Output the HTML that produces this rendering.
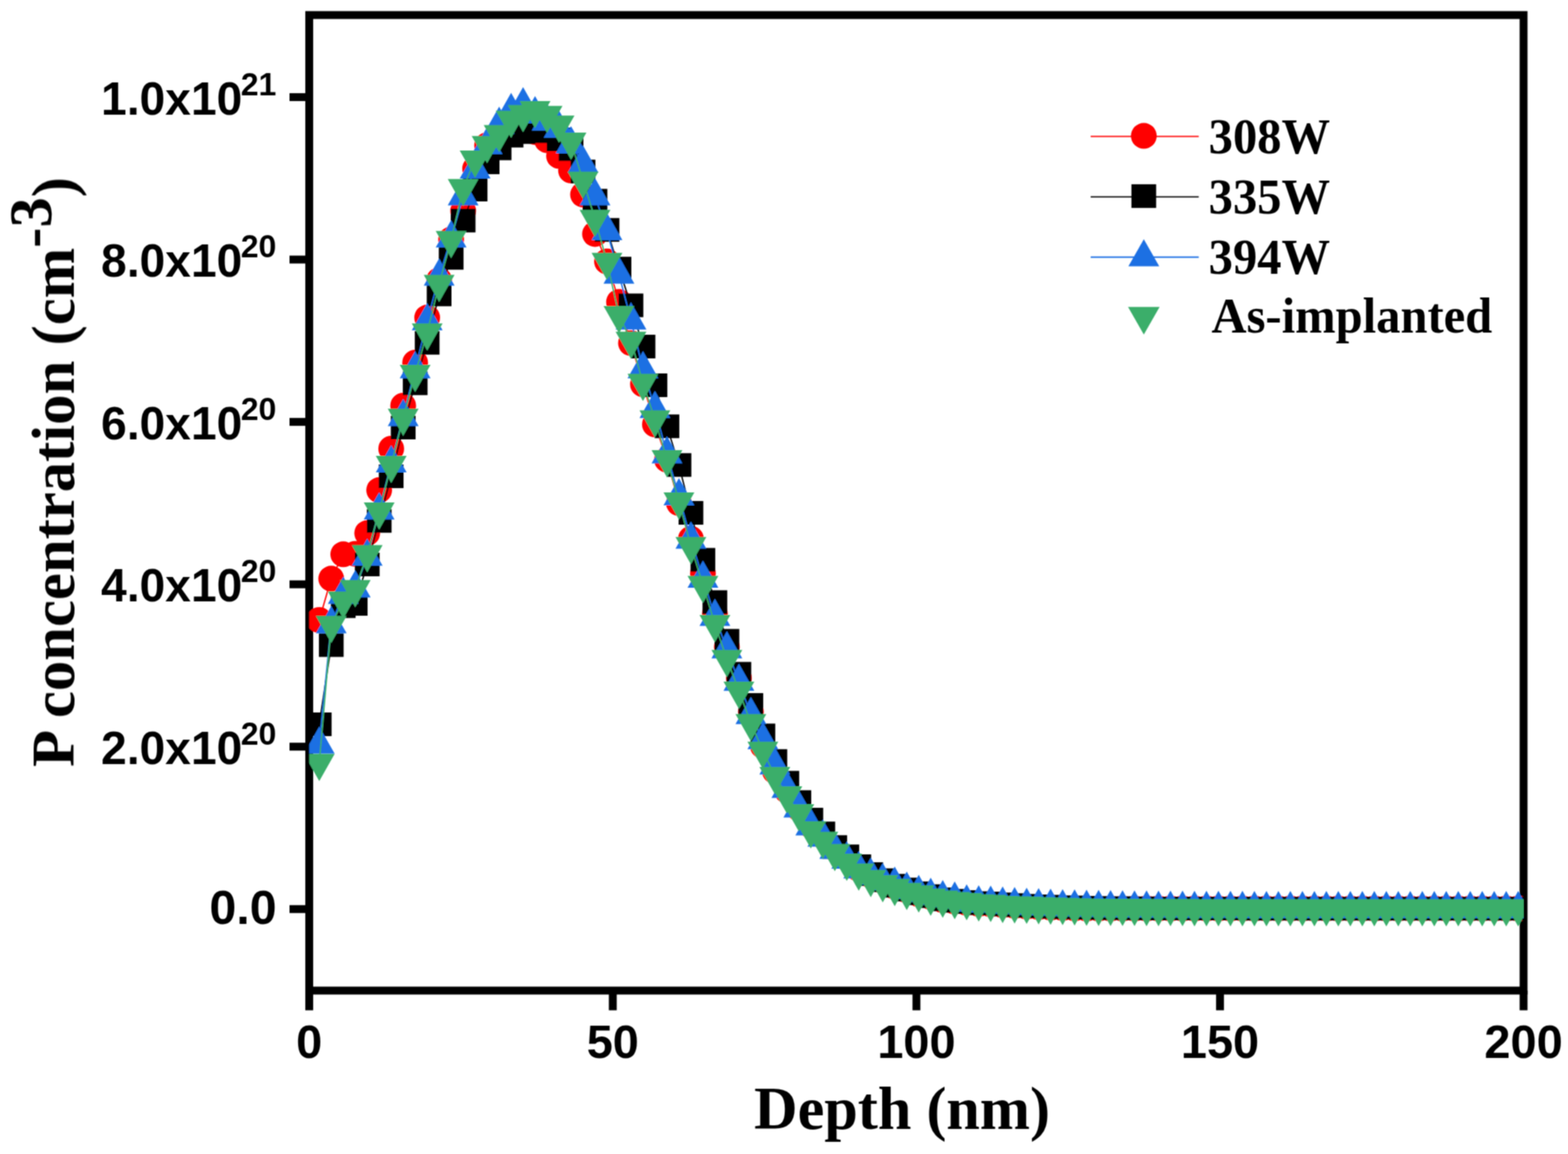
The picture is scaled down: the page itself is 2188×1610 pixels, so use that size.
<!DOCTYPE html>
<html><head><meta charset="utf-8"><title>P concentration vs depth</title>
<style>html,body{margin:0;padding:0;background:#fff;}svg{display:block;}</style>
</head><body>
<svg width="2188" height="1610" viewBox="0 0 2188 1610">
<rect width="2188" height="1610" fill="#fff"/>
<g filter="url(#bl)">
<defs><filter id="bl" x="0" y="0" width="100%" height="100%" filterUnits="userSpaceOnUse"><feConvolveMatrix order="3" kernelMatrix="1 2 1 2 4 2 1 2 1" divisor="16" edgeMode="duplicate" preserveAlpha="false"/></filter><clipPath id="pc"><rect x="431.5" y="21" width="1694.5" height="1361"/></clipPath></defs>
<g stroke="#000" stroke-width="11" fill="none" stroke-linecap="square">
<rect x="431.5" y="21" width="1694.5" height="1361"/>
</g>
<g stroke="#000" stroke-width="11" fill="none">
<line x1="431.5" y1="1382" x2="431.5" y2="1409.5"/>
<line x1="855.1" y1="1382" x2="855.1" y2="1409.5"/>
<line x1="1278.8" y1="1382" x2="1278.8" y2="1409.5"/>
<line x1="1702.4" y1="1382" x2="1702.4" y2="1409.5"/>
<line x1="2126" y1="1382" x2="2126" y2="1409.5"/>
<line x1="404" y1="1268.3" x2="431.5" y2="1268.3"/>
<line x1="404" y1="1041.7" x2="431.5" y2="1041.7"/>
<line x1="404" y1="815.2" x2="431.5" y2="815.2"/>
<line x1="404" y1="588.6" x2="431.5" y2="588.6"/>
<line x1="404" y1="362.1" x2="431.5" y2="362.1"/>
<line x1="404" y1="135.5" x2="431.5" y2="135.5"/>
</g>
<g clip-path="url(#pc)">
<polyline points="445.5,865 462.2,807.3 479,773.3 495.7,772.7 512.4,743.8 529.1,683.8 545.9,626 562.6,566 579.3,505.9 596.1,443.1 612.8,390.8 629.5,334.1 646.3,294.1 663,235.2 679.7,202.7 696.5,186.5 713.2,178.5 729.9,178.5 746.6,184.2 763.4,195.5 780.1,217.6 796.8,237.8 813.6,271.4 830.3,326.4 847,364.8 863.8,421.3 880.5,478.7 897.2,536.1 913.9,592 930.7,641.3 947.4,701.9 964.1,751.7 980.9,800 997.6,856.5 1014.3,902.6 1031.1,946 1047.8,993 1064.5,1040.6 1081.2,1075.7 1098,1102.9 1114.7,1127.8 1131.4,1151.6 1148.2,1166.3 1164.9,1183.3 1181.6,1196.9 1198.3,1212.2 1215.1,1221.3 1231.8,1229.1 1248.5,1236.9 1265.3,1242.1 1282,1247.5 1298.7,1251.3 1315.5,1255.8 1332.2,1257.9 1348.9,1259.7 1365.7,1261.2 1382.4,1261.7 1399.1,1262.9 1415.8,1263.9 1432.6,1264.8 1449.3,1265.6 1466,1266.3 1482.8,1266.8 1499.5,1267.3 1516.2,1267.6 1533,1267.6 1549.7,1267.6 1566.4,1267.6 1583.1,1267.6 1599.9,1267.5 1616.6,1267.5 1633.3,1267.5 1650.1,1267.5 1666.8,1267.5 1683.5,1267.5 1700.2,1267.5 1717,1267.5 1733.7,1267.5 1750.4,1267.5 1767.2,1267.5 1783.9,1267.5 1800.6,1267.5 1817.4,1267.5 1834.1,1267.5 1850.8,1267.5 1867.5,1267.5 1884.3,1267.5 1901,1267.5 1917.7,1267.5 1934.5,1267.5 1951.2,1267.5 1967.9,1267.5 1984.7,1267.5 2001.4,1267.5 2018.1,1267.5 2034.9,1267.5 2051.6,1267.5 2068.3,1267.5 2085,1267.5 2101.8,1267.5 2118.5,1267.5" fill="none" stroke="#ff0000" stroke-width="1.9" stroke-linejoin="round"/>
<path d="M427.5 865a18 18 0 1 0 36 0a18 18 0 1 0 -36 0zM444.2 807.3a18 18 0 1 0 36 0a18 18 0 1 0 -36 0zM461 773.3a18 18 0 1 0 36 0a18 18 0 1 0 -36 0zM477.7 772.7a18 18 0 1 0 36 0a18 18 0 1 0 -36 0zM494.4 743.8a18 18 0 1 0 36 0a18 18 0 1 0 -36 0zM511.1 683.8a18 18 0 1 0 36 0a18 18 0 1 0 -36 0zM527.9 626a18 18 0 1 0 36 0a18 18 0 1 0 -36 0zM544.6 566a18 18 0 1 0 36 0a18 18 0 1 0 -36 0zM561.3 505.9a18 18 0 1 0 36 0a18 18 0 1 0 -36 0zM578.1 443.1a18 18 0 1 0 36 0a18 18 0 1 0 -36 0zM594.8 390.8a18 18 0 1 0 36 0a18 18 0 1 0 -36 0zM611.5 334.1a18 18 0 1 0 36 0a18 18 0 1 0 -36 0zM628.3 294.1a18 18 0 1 0 36 0a18 18 0 1 0 -36 0zM645 235.2a18 18 0 1 0 36 0a18 18 0 1 0 -36 0zM661.7 202.7a18 18 0 1 0 36 0a18 18 0 1 0 -36 0zM678.5 186.5a18 18 0 1 0 36 0a18 18 0 1 0 -36 0zM695.2 178.5a18 18 0 1 0 36 0a18 18 0 1 0 -36 0zM711.9 178.5a18 18 0 1 0 36 0a18 18 0 1 0 -36 0zM728.6 184.2a18 18 0 1 0 36 0a18 18 0 1 0 -36 0zM745.4 195.5a18 18 0 1 0 36 0a18 18 0 1 0 -36 0zM762.1 217.6a18 18 0 1 0 36 0a18 18 0 1 0 -36 0zM778.8 237.8a18 18 0 1 0 36 0a18 18 0 1 0 -36 0zM795.6 271.4a18 18 0 1 0 36 0a18 18 0 1 0 -36 0zM812.3 326.4a18 18 0 1 0 36 0a18 18 0 1 0 -36 0zM829 364.8a18 18 0 1 0 36 0a18 18 0 1 0 -36 0zM845.8 421.3a18 18 0 1 0 36 0a18 18 0 1 0 -36 0zM862.5 478.7a18 18 0 1 0 36 0a18 18 0 1 0 -36 0zM879.2 536.1a18 18 0 1 0 36 0a18 18 0 1 0 -36 0zM895.9 592a18 18 0 1 0 36 0a18 18 0 1 0 -36 0zM912.7 641.3a18 18 0 1 0 36 0a18 18 0 1 0 -36 0zM929.4 701.9a18 18 0 1 0 36 0a18 18 0 1 0 -36 0zM946.1 751.7a18 18 0 1 0 36 0a18 18 0 1 0 -36 0zM962.9 800a18 18 0 1 0 36 0a18 18 0 1 0 -36 0zM979.6 856.5a18 18 0 1 0 36 0a18 18 0 1 0 -36 0zM996.3 902.6a18 18 0 1 0 36 0a18 18 0 1 0 -36 0zM1013.1 946a18 18 0 1 0 36 0a18 18 0 1 0 -36 0zM1029.8 993a18 18 0 1 0 36 0a18 18 0 1 0 -36 0zM1046.5 1040.6a18 18 0 1 0 36 0a18 18 0 1 0 -36 0zM1063.2 1075.7a18 18 0 1 0 36 0a18 18 0 1 0 -36 0zM1080 1102.9a18 18 0 1 0 36 0a18 18 0 1 0 -36 0zM1096.7 1127.8a18 18 0 1 0 36 0a18 18 0 1 0 -36 0zM1113.4 1151.6a18 18 0 1 0 36 0a18 18 0 1 0 -36 0zM1130.2 1166.3a18 18 0 1 0 36 0a18 18 0 1 0 -36 0zM1146.9 1183.3a18 18 0 1 0 36 0a18 18 0 1 0 -36 0zM1163.6 1196.9a18 18 0 1 0 36 0a18 18 0 1 0 -36 0zM1180.3 1212.2a18 18 0 1 0 36 0a18 18 0 1 0 -36 0zM1197.1 1221.3a18 18 0 1 0 36 0a18 18 0 1 0 -36 0zM1213.8 1229.1a18 18 0 1 0 36 0a18 18 0 1 0 -36 0zM1230.5 1236.9a18 18 0 1 0 36 0a18 18 0 1 0 -36 0zM1247.3 1242.1a18 18 0 1 0 36 0a18 18 0 1 0 -36 0zM1264 1247.5a18 18 0 1 0 36 0a18 18 0 1 0 -36 0zM1280.7 1251.3a18 18 0 1 0 36 0a18 18 0 1 0 -36 0zM1297.5 1255.8a18 18 0 1 0 36 0a18 18 0 1 0 -36 0zM1314.2 1257.9a18 18 0 1 0 36 0a18 18 0 1 0 -36 0zM1330.9 1259.7a18 18 0 1 0 36 0a18 18 0 1 0 -36 0zM1347.7 1261.2a18 18 0 1 0 36 0a18 18 0 1 0 -36 0zM1364.4 1261.7a18 18 0 1 0 36 0a18 18 0 1 0 -36 0zM1381.1 1262.9a18 18 0 1 0 36 0a18 18 0 1 0 -36 0zM1397.8 1263.9a18 18 0 1 0 36 0a18 18 0 1 0 -36 0zM1414.6 1264.8a18 18 0 1 0 36 0a18 18 0 1 0 -36 0zM1431.3 1265.6a18 18 0 1 0 36 0a18 18 0 1 0 -36 0zM1448 1266.3a18 18 0 1 0 36 0a18 18 0 1 0 -36 0zM1464.8 1266.8a18 18 0 1 0 36 0a18 18 0 1 0 -36 0zM1481.5 1267.3a18 18 0 1 0 36 0a18 18 0 1 0 -36 0zM1498.2 1267.6a18 18 0 1 0 36 0a18 18 0 1 0 -36 0zM1515 1267.6a18 18 0 1 0 36 0a18 18 0 1 0 -36 0zM1531.7 1267.6a18 18 0 1 0 36 0a18 18 0 1 0 -36 0zM1548.4 1267.6a18 18 0 1 0 36 0a18 18 0 1 0 -36 0zM1565.1 1267.6a18 18 0 1 0 36 0a18 18 0 1 0 -36 0zM1581.9 1267.5a18 18 0 1 0 36 0a18 18 0 1 0 -36 0zM1598.6 1267.5a18 18 0 1 0 36 0a18 18 0 1 0 -36 0zM1615.3 1267.5a18 18 0 1 0 36 0a18 18 0 1 0 -36 0zM1632.1 1267.5a18 18 0 1 0 36 0a18 18 0 1 0 -36 0zM1648.8 1267.5a18 18 0 1 0 36 0a18 18 0 1 0 -36 0zM1665.5 1267.5a18 18 0 1 0 36 0a18 18 0 1 0 -36 0zM1682.2 1267.5a18 18 0 1 0 36 0a18 18 0 1 0 -36 0zM1699 1267.5a18 18 0 1 0 36 0a18 18 0 1 0 -36 0zM1715.7 1267.5a18 18 0 1 0 36 0a18 18 0 1 0 -36 0zM1732.4 1267.5a18 18 0 1 0 36 0a18 18 0 1 0 -36 0zM1749.2 1267.5a18 18 0 1 0 36 0a18 18 0 1 0 -36 0zM1765.9 1267.5a18 18 0 1 0 36 0a18 18 0 1 0 -36 0zM1782.6 1267.5a18 18 0 1 0 36 0a18 18 0 1 0 -36 0zM1799.4 1267.5a18 18 0 1 0 36 0a18 18 0 1 0 -36 0zM1816.1 1267.5a18 18 0 1 0 36 0a18 18 0 1 0 -36 0zM1832.8 1267.5a18 18 0 1 0 36 0a18 18 0 1 0 -36 0zM1849.5 1267.5a18 18 0 1 0 36 0a18 18 0 1 0 -36 0zM1866.3 1267.5a18 18 0 1 0 36 0a18 18 0 1 0 -36 0zM1883 1267.5a18 18 0 1 0 36 0a18 18 0 1 0 -36 0zM1899.7 1267.5a18 18 0 1 0 36 0a18 18 0 1 0 -36 0zM1916.5 1267.5a18 18 0 1 0 36 0a18 18 0 1 0 -36 0zM1933.2 1267.5a18 18 0 1 0 36 0a18 18 0 1 0 -36 0zM1949.9 1267.5a18 18 0 1 0 36 0a18 18 0 1 0 -36 0zM1966.7 1267.5a18 18 0 1 0 36 0a18 18 0 1 0 -36 0zM1983.4 1267.5a18 18 0 1 0 36 0a18 18 0 1 0 -36 0zM2000.1 1267.5a18 18 0 1 0 36 0a18 18 0 1 0 -36 0zM2016.9 1267.5a18 18 0 1 0 36 0a18 18 0 1 0 -36 0zM2033.6 1267.5a18 18 0 1 0 36 0a18 18 0 1 0 -36 0zM2050.3 1267.5a18 18 0 1 0 36 0a18 18 0 1 0 -36 0zM2067 1267.5a18 18 0 1 0 36 0a18 18 0 1 0 -36 0zM2083.8 1267.5a18 18 0 1 0 36 0a18 18 0 1 0 -36 0zM2100.5 1267.5a18 18 0 1 0 36 0a18 18 0 1 0 -36 0z" fill="#ff0000"/>
<polyline points="445.5,1010.5 462.2,900.1 479,845.8 495.7,842.4 512.4,787.4 529.1,726.8 545.9,664.5 562.6,596.5 579.3,534.8 596.1,478.3 612.8,410.8 629.5,359.8 646.3,307.7 663,264.6 679.7,226.5 696.5,206.9 713.2,189.2 729.9,184.2 746.6,183.1 763.4,183.1 780.1,194.4 796.8,208 813.6,239.2 830.3,280 847,320.8 863.8,374.7 880.5,426.1 897.2,483.5 913.9,537.4 930.7,594.7 947.4,648.7 964.1,715.5 980.9,780.9 997.6,840 1014.3,893.9 1031.1,940 1047.8,983.5 1064.5,1026.1 1081.2,1061.7 1098,1092.1 1114.7,1119.1 1131.4,1143.5 1148.2,1162.8 1164.9,1181.8 1181.6,1194.7 1198.3,1208.4 1215.1,1219.5 1231.8,1228 1248.5,1235.8 1265.3,1241 1282,1246.3 1298.7,1250.2 1315.5,1254.7 1332.2,1256.7 1348.9,1258.6 1365.7,1260 1382.4,1260.6 1399.1,1261.7 1415.8,1262.7 1432.6,1263.7 1449.3,1264.4 1466,1265.1 1482.8,1265.7 1499.5,1266.1 1516.2,1266.5 1533,1266.7 1549.7,1266.9 1566.4,1267 1583.1,1267.2 1599.9,1267.3 1616.6,1267.4 1633.3,1267.4 1650.1,1267.5 1666.8,1267.5 1683.5,1267.6 1700.2,1267.6 1717,1267.6 1733.7,1267.6 1750.4,1267.7 1767.2,1267.7 1783.9,1267.7 1800.6,1267.7 1817.4,1267.7 1834.1,1267.7 1850.8,1267.7 1867.5,1267.7 1884.3,1267.7 1901,1267.7 1917.7,1267.7 1934.5,1267.7 1951.2,1267.7 1967.9,1267.7 1984.7,1267.7 2001.4,1267.7 2018.1,1267.7 2034.9,1267.7 2051.6,1267.7 2068.3,1267.7 2085,1267.7 2101.8,1267.7 2118.5,1267.7" fill="none" stroke="#000000" stroke-width="1.9" stroke-linejoin="round"/>
<path d="M428.2 994h34.5v33h-34.5zM445 883.6h34.5v33h-34.5zM461.7 829.3h34.5v33h-34.5zM478.4 825.9h34.5v33h-34.5zM495.2 770.9h34.5v33h-34.5zM511.9 710.3h34.5v33h-34.5zM528.6 648h34.5v33h-34.5zM545.4 580h34.5v33h-34.5zM562.1 518.3h34.5v33h-34.5zM578.8 461.8h34.5v33h-34.5zM595.5 394.3h34.5v33h-34.5zM612.3 343.3h34.5v33h-34.5zM629 291.2h34.5v33h-34.5zM645.7 248.1h34.5v33h-34.5zM662.5 210h34.5v33h-34.5zM679.2 190.4h34.5v33h-34.5zM695.9 172.7h34.5v33h-34.5zM712.7 167.7h34.5v33h-34.5zM729.4 166.6h34.5v33h-34.5zM746.1 166.6h34.5v33h-34.5zM762.9 177.9h34.5v33h-34.5zM779.6 191.5h34.5v33h-34.5zM796.3 222.7h34.5v33h-34.5zM813 263.5h34.5v33h-34.5zM829.8 304.3h34.5v33h-34.5zM846.5 358.2h34.5v33h-34.5zM863.2 409.6h34.5v33h-34.5zM880 467h34.5v33h-34.5zM896.7 520.9h34.5v33h-34.5zM913.4 578.2h34.5v33h-34.5zM930.2 632.2h34.5v33h-34.5zM946.9 699h34.5v33h-34.5zM963.6 764.4h34.5v33h-34.5zM980.3 823.5h34.5v33h-34.5zM997.1 877.4h34.5v33h-34.5zM1013.8 923.5h34.5v33h-34.5zM1030.5 967h34.5v33h-34.5zM1047.3 1009.6h34.5v33h-34.5zM1064 1045.2h34.5v33h-34.5zM1080.7 1075.6h34.5v33h-34.5zM1097.5 1102.6h34.5v33h-34.5zM1114.2 1127h34.5v33h-34.5zM1130.9 1146.3h34.5v33h-34.5zM1147.6 1165.3h34.5v33h-34.5zM1164.4 1178.2h34.5v33h-34.5zM1181.1 1191.9h34.5v33h-34.5zM1197.8 1203h34.5v33h-34.5zM1214.6 1211.5h34.5v33h-34.5zM1231.3 1219.3h34.5v33h-34.5zM1248 1224.5h34.5v33h-34.5zM1264.8 1229.8h34.5v33h-34.5zM1281.5 1233.7h34.5v33h-34.5zM1298.2 1238.2h34.5v33h-34.5zM1314.9 1240.2h34.5v33h-34.5zM1331.7 1242.1h34.5v33h-34.5zM1348.4 1243.5h34.5v33h-34.5zM1365.1 1244.1h34.5v33h-34.5zM1381.9 1245.2h34.5v33h-34.5zM1398.6 1246.2h34.5v33h-34.5zM1415.3 1247.2h34.5v33h-34.5zM1432.1 1247.9h34.5v33h-34.5zM1448.8 1248.6h34.5v33h-34.5zM1465.5 1249.2h34.5v33h-34.5zM1482.2 1249.6h34.5v33h-34.5zM1499 1250h34.5v33h-34.5zM1515.7 1250.2h34.5v33h-34.5zM1532.4 1250.4h34.5v33h-34.5zM1549.2 1250.5h34.5v33h-34.5zM1565.9 1250.7h34.5v33h-34.5zM1582.6 1250.8h34.5v33h-34.5zM1599.4 1250.9h34.5v33h-34.5zM1616.1 1250.9h34.5v33h-34.5zM1632.8 1251h34.5v33h-34.5zM1649.5 1251h34.5v33h-34.5zM1666.3 1251.1h34.5v33h-34.5zM1683 1251.1h34.5v33h-34.5zM1699.7 1251.1h34.5v33h-34.5zM1716.5 1251.1h34.5v33h-34.5zM1733.2 1251.2h34.5v33h-34.5zM1749.9 1251.2h34.5v33h-34.5zM1766.7 1251.2h34.5v33h-34.5zM1783.4 1251.2h34.5v33h-34.5zM1800.1 1251.2h34.5v33h-34.5zM1816.8 1251.2h34.5v33h-34.5zM1833.6 1251.2h34.5v33h-34.5zM1850.3 1251.2h34.5v33h-34.5zM1867 1251.2h34.5v33h-34.5zM1883.8 1251.2h34.5v33h-34.5zM1900.5 1251.2h34.5v33h-34.5zM1917.2 1251.2h34.5v33h-34.5zM1934 1251.2h34.5v33h-34.5zM1950.7 1251.2h34.5v33h-34.5zM1967.4 1251.2h34.5v33h-34.5zM1984.1 1251.2h34.5v33h-34.5zM2000.9 1251.2h34.5v33h-34.5zM2017.6 1251.2h34.5v33h-34.5zM2034.3 1251.2h34.5v33h-34.5zM2051.1 1251.2h34.5v33h-34.5zM2067.8 1251.2h34.5v33h-34.5zM2084.5 1251.2h34.5v33h-34.5zM2101.2 1251.2h34.5v33h-34.5z" fill="#000000"/>
<polyline points="445.5,1038.9 462.2,870.7 479,829.9 495.7,820.8 512.4,776.7 529.1,712.1 545.9,646.4 562.6,581.8 579.3,515 596.1,448.2 612.8,385.8 629.5,332.6 646.3,273.7 663,236.3 679.7,202.3 696.5,174 713.2,154.8 729.9,146.8 746.6,159.3 763.4,169.5 780.1,179.7 796.8,201.2 813.6,228.4 830.3,273.7 847,322.4 863.8,383 880.5,447 897.2,515 913.9,570.5 930.7,633.9 947.4,692.3 964.1,752.9 980.9,807.3 997.6,860.5 1014.3,905.8 1031.1,951.1 1047.8,997.6 1064.5,1032.7 1081.2,1067.8 1098,1100.6 1114.7,1127.8 1131.4,1152.8 1148.2,1168.6 1164.9,1185.6 1181.6,1199.2 1198.3,1212.8 1215.1,1221.9 1231.8,1229.2 1248.5,1234.3 1265.3,1241.5 1282,1245.9 1298.7,1249.8 1315.5,1253.1 1332.2,1255 1348.9,1259 1365.7,1260.3 1382.4,1260.9 1399.1,1262.1 1415.8,1263 1432.6,1263.8 1449.3,1264.4 1466,1265.1 1482.8,1265.7 1499.5,1266.1 1516.2,1266.5 1533,1266.8 1549.7,1267.1 1566.4,1267.3 1583.1,1267.5 1599.9,1267.6 1616.6,1267.8 1633.3,1267.9 1650.1,1267.9 1666.8,1268 1683.5,1268.1 1700.2,1268.1 1717,1268.1 1733.7,1268.2 1750.4,1268.2 1767.2,1268.2 1783.9,1268.2 1800.6,1268.2 1817.4,1268.3 1834.1,1268.3 1850.8,1268.3 1867.5,1268.3 1884.3,1268.3 1901,1268.3 1917.7,1268.3 1934.5,1268.3 1951.2,1268.3 1967.9,1268.3 1984.7,1268.3 2001.4,1268.3 2018.1,1268.3 2034.9,1268.3 2051.6,1268.3 2068.3,1268.3 2085,1268.3 2101.8,1268.3 2118.5,1268.3" fill="none" stroke="#1c6fe3" stroke-width="1.9" stroke-linejoin="round"/>
<path d="M445.5 1013.6L467 1051.6L424 1051.6zM462.2 845.4L483.7 883.4L440.7 883.4zM479 804.6L500.5 842.6L457.5 842.6zM495.7 795.5L517.2 833.5L474.2 833.5zM512.4 751.3L533.9 789.3L490.9 789.3zM529.1 686.8L550.6 724.8L507.6 724.8zM545.9 621.1L567.4 659.1L524.4 659.1zM562.6 556.5L584.1 594.5L541.1 594.5zM579.3 489.7L600.8 527.7L557.8 527.7zM596.1 422.8L617.6 460.8L574.6 460.8zM612.8 360.5L634.3 398.5L591.3 398.5zM629.5 307.3L651 345.3L608 345.3zM646.3 248.4L667.8 286.4L624.8 286.4zM663 211L684.5 249L641.5 249zM679.7 177L701.2 215L658.2 215zM696.5 148.7L718 186.7L675 186.7zM713.2 129.4L734.7 167.4L691.7 167.4zM729.9 121.5L751.4 159.5L708.4 159.5zM746.6 134L768.1 172L725.1 172zM763.4 144.2L784.9 182.2L741.9 182.2zM780.1 154.3L801.6 192.3L758.6 192.3zM796.8 175.9L818.3 213.9L775.3 213.9zM813.6 203.1L835.1 241.1L792.1 241.1zM830.3 248.4L851.8 286.4L808.8 286.4zM847 297.1L868.5 335.1L825.5 335.1zM863.8 357.7L885.2 395.7L842.2 395.7zM880.5 421.7L902 459.7L859 459.7zM897.2 489.7L918.7 527.7L875.7 527.7zM913.9 545.2L935.4 583.2L892.4 583.2zM930.7 608.6L952.2 646.6L909.2 646.6zM947.4 666.9L968.9 704.9L925.9 704.9zM964.1 727.5L985.6 765.5L942.6 765.5zM980.9 781.9L1002.4 819.9L959.4 819.9zM997.6 835.2L1019.1 873.2L976.1 873.2zM1014.3 880.5L1035.8 918.5L992.8 918.5zM1031.1 925.8L1052.6 963.8L1009.6 963.8zM1047.8 972.2L1069.3 1010.2L1026.3 1010.2zM1064.5 1007.3L1086 1045.3L1043 1045.3zM1081.2 1042.5L1102.7 1080.5L1059.7 1080.5zM1098 1075.3L1119.5 1113.3L1076.5 1113.3zM1114.7 1102.5L1136.2 1140.5L1093.2 1140.5zM1131.4 1127.4L1152.9 1165.4L1109.9 1165.4zM1148.2 1143.3L1169.7 1181.3L1126.7 1181.3zM1164.9 1160.3L1186.4 1198.3L1143.4 1198.3zM1181.6 1173.9L1203.1 1211.9L1160.1 1211.9zM1198.3 1187.5L1219.8 1225.5L1176.8 1225.5zM1215.1 1196.5L1236.6 1234.5L1193.6 1234.5zM1231.8 1203.9L1253.3 1241.9L1210.3 1241.9zM1248.5 1209L1270 1247L1227 1247zM1265.3 1216.1L1286.8 1254.1L1243.8 1254.1zM1282 1220.5L1303.5 1258.5L1260.5 1258.5zM1298.7 1224.5L1320.2 1262.5L1277.2 1262.5zM1315.5 1227.8L1337 1265.8L1294 1265.8zM1332.2 1229.7L1353.7 1267.7L1310.7 1267.7zM1348.9 1233.7L1370.4 1271.7L1327.4 1271.7zM1365.7 1234.9L1387.2 1272.9L1344.2 1272.9zM1382.4 1235.6L1403.9 1273.6L1360.9 1273.6zM1399.1 1236.7L1420.6 1274.7L1377.6 1274.7zM1415.8 1237.6L1437.3 1275.6L1394.3 1275.6zM1432.6 1238.4L1454.1 1276.4L1411.1 1276.4zM1449.3 1239.1L1470.8 1277.1L1427.8 1277.1zM1466 1239.8L1487.5 1277.8L1444.5 1277.8zM1482.8 1240.4L1504.3 1278.4L1461.3 1278.4zM1499.5 1240.8L1521 1278.8L1478 1278.8zM1516.2 1241.2L1537.7 1279.2L1494.7 1279.2zM1533 1241.5L1554.5 1279.5L1511.5 1279.5zM1549.7 1241.8L1571.2 1279.8L1528.2 1279.8zM1566.4 1242L1587.9 1280L1544.9 1280zM1583.1 1242.2L1604.6 1280.2L1561.6 1280.2zM1599.9 1242.3L1621.4 1280.3L1578.4 1280.3zM1616.6 1242.4L1638.1 1280.4L1595.1 1280.4zM1633.3 1242.5L1654.8 1280.5L1611.8 1280.5zM1650.1 1242.6L1671.6 1280.6L1628.6 1280.6zM1666.8 1242.7L1688.3 1280.7L1645.3 1280.7zM1683.5 1242.7L1705 1280.7L1662 1280.7zM1700.2 1242.8L1721.8 1280.8L1678.8 1280.8zM1717 1242.8L1738.5 1280.8L1695.5 1280.8zM1733.7 1242.8L1755.2 1280.8L1712.2 1280.8zM1750.4 1242.9L1771.9 1280.9L1728.9 1280.9zM1767.2 1242.9L1788.7 1280.9L1745.7 1280.9zM1783.9 1242.9L1805.4 1280.9L1762.4 1280.9zM1800.6 1242.9L1822.1 1280.9L1779.1 1280.9zM1817.4 1242.9L1838.9 1280.9L1795.9 1280.9zM1834.1 1242.9L1855.6 1280.9L1812.6 1280.9zM1850.8 1242.9L1872.3 1280.9L1829.3 1280.9zM1867.5 1242.9L1889 1280.9L1846 1280.9zM1884.3 1242.9L1905.8 1280.9L1862.8 1280.9zM1901 1242.9L1922.5 1280.9L1879.5 1280.9zM1917.7 1243L1939.2 1281L1896.2 1281zM1934.5 1243L1956 1281L1913 1281zM1951.2 1243L1972.7 1281L1929.7 1281zM1967.9 1243L1989.4 1281L1946.4 1281zM1984.7 1243L2006.2 1281L1963.2 1281zM2001.4 1243L2022.9 1281L1979.9 1281zM2018.1 1243L2039.6 1281L1996.6 1281zM2034.9 1243L2056.4 1281L2013.4 1281zM2051.6 1243L2073.1 1281L2030.1 1281zM2068.3 1243L2089.8 1281L2046.8 1281zM2085 1243L2106.5 1281L2063.5 1281zM2101.8 1243L2123.3 1281L2080.3 1281zM2118.5 1243L2140 1281L2097 1281z" fill="#1c6fe3"/>
<polyline points="445.5,1064.4 462.2,871.8 479,837.8 495.7,822 512.4,773.3 529.1,713.8 545.9,648.7 562.6,583 579.3,521.8 596.1,464 612.8,396 629.5,334.9 646.3,262.4 663,222.7 679.7,202.3 696.5,187 713.2,167.2 729.9,159.3 746.6,153.6 763.4,160.4 780.1,174 796.8,197.8 813.6,252.2 830.3,305.4 847,365.5 863.8,439.7 880.5,475.3 897.2,534.2 913.9,585.2 930.7,640.7 947.4,699.6 964.1,761.9 980.9,816.3 997.6,870.7 1014.3,919.4 1031.1,963.6 1047.8,1008.9 1064.5,1047.4 1081.2,1082.5 1098,1109.7 1114.7,1134.6 1131.4,1158.4 1148.2,1173.1 1164.9,1190.1 1181.6,1203.7 1198.3,1217.3 1215.1,1226.4 1231.8,1233.7 1248.5,1238.8 1265.3,1244.5 1282,1247.9 1298.7,1252.4 1315.5,1255.3 1332.2,1257.3 1348.9,1258.6 1365.7,1260.5 1382.4,1261.2 1399.1,1262.5 1415.8,1263.2 1432.6,1263.8 1449.3,1264.3 1466,1264.9 1482.8,1265.5 1499.5,1265.9 1516.2,1266.4 1533,1266.5 1549.7,1266.6 1566.4,1266.7 1583.1,1266.8 1599.9,1266.9 1616.6,1266.9 1633.3,1267 1650.1,1267 1666.8,1267 1683.5,1267.1 1700.2,1267.1 1717,1267.1 1733.7,1267.1 1750.4,1267.1 1767.2,1267.1 1783.9,1267.1 1800.6,1267.1 1817.4,1267.1 1834.1,1267.1 1850.8,1267.2 1867.5,1267.2 1884.3,1267.2 1901,1267.2 1917.7,1267.2 1934.5,1267.2 1951.2,1267.2 1967.9,1267.2 1984.7,1267.2 2001.4,1267.2 2018.1,1267.2 2034.9,1267.2 2051.6,1267.2 2068.3,1267.2 2085,1267.2 2101.8,1267.2 2118.5,1267.2" fill="none" stroke="#3aae6a" stroke-width="1.9" stroke-linejoin="round"/>
<path d="M424 1051.7L467 1051.7L445.5 1089.7zM440.7 859.2L483.7 859.2L462.2 897.2zM457.5 825.2L500.5 825.2L479 863.2zM474.2 809.3L517.2 809.3L495.7 847.3zM490.9 760.6L533.9 760.6L512.4 798.6zM507.6 701.1L550.6 701.1L529.1 739.1zM524.4 636L567.4 636L545.9 674zM541.1 570.3L584.1 570.3L562.6 608.3zM557.8 509.1L600.8 509.1L579.3 547.1zM574.6 451.3L617.6 451.3L596.1 489.3zM591.3 383.4L634.3 383.4L612.8 421.4zM608 322.2L651 322.2L629.5 360.2zM624.8 249.7L667.8 249.7L646.3 287.7zM641.5 210.1L684.5 210.1L663 248.1zM658.2 189.7L701.2 189.7L679.7 227.7zM675 174.4L718 174.4L696.5 212.4zM691.7 154.6L734.7 154.6L713.2 192.6zM708.4 146.6L751.4 146.6L729.9 184.6zM725.1 141L768.1 141L746.6 179zM741.9 147.8L784.9 147.8L763.4 185.8zM758.6 161.3L801.6 161.3L780.1 199.3zM775.3 185.1L818.3 185.1L796.8 223.1zM792.1 239.5L835.1 239.5L813.6 277.5zM808.8 292.8L851.8 292.8L830.3 330.8zM825.5 352.8L868.5 352.8L847 390.8zM842.2 427L885.2 427L863.8 465zM859 462.7L902 462.7L880.5 500.7zM875.7 521.6L918.7 521.6L897.2 559.6zM892.4 572.6L935.4 572.6L913.9 610.6zM909.2 628.1L952.2 628.1L930.7 666.1zM925.9 687L968.9 687L947.4 725zM942.6 749.3L985.6 749.3L964.1 787.3zM959.4 803.6L1002.4 803.6L980.9 841.6zM976.1 858L1019.1 858L997.6 896zM992.8 906.7L1035.8 906.7L1014.3 944.7zM1009.6 950.9L1052.6 950.9L1031.1 988.9zM1026.3 996.2L1069.3 996.2L1047.8 1034.2zM1043 1034.7L1086 1034.7L1064.5 1072.7zM1059.7 1069.9L1102.7 1069.9L1081.2 1107.9zM1076.5 1097L1119.5 1097L1098 1135zM1093.2 1122L1136.2 1122L1114.7 1160zM1109.9 1145.8L1152.9 1145.8L1131.4 1183.8zM1126.7 1160.5L1169.7 1160.5L1148.2 1198.5zM1143.4 1177.5L1186.4 1177.5L1164.9 1215.5zM1160.1 1191.1L1203.1 1191.1L1181.6 1229.1zM1176.8 1204.7L1219.8 1204.7L1198.3 1242.7zM1193.6 1213.7L1236.6 1213.7L1215.1 1251.7zM1210.3 1221.1L1253.3 1221.1L1231.8 1259.1zM1227 1226.2L1270 1226.2L1248.5 1264.2zM1243.8 1231.8L1286.8 1231.8L1265.3 1269.8zM1260.5 1235.2L1303.5 1235.2L1282 1273.2zM1277.2 1239.8L1320.2 1239.8L1298.7 1277.8zM1294 1242.6L1337 1242.6L1315.5 1280.6zM1310.7 1244.6L1353.7 1244.6L1332.2 1282.6zM1327.4 1245.9L1370.4 1245.9L1348.9 1283.9zM1344.2 1247.8L1387.2 1247.8L1365.7 1285.8zM1360.9 1248.5L1403.9 1248.5L1382.4 1286.5zM1377.6 1249.9L1420.6 1249.9L1399.1 1287.9zM1394.3 1250.5L1437.3 1250.5L1415.8 1288.5zM1411.1 1251.1L1454.1 1251.1L1432.6 1289.1zM1427.8 1251.7L1470.8 1251.7L1449.3 1289.7zM1444.5 1252.2L1487.5 1252.2L1466 1290.2zM1461.3 1252.8L1504.3 1252.8L1482.8 1290.8zM1478 1253.3L1521 1253.3L1499.5 1291.3zM1494.7 1253.7L1537.7 1253.7L1516.2 1291.7zM1511.5 1253.9L1554.5 1253.9L1533 1291.9zM1528.2 1254L1571.2 1254L1549.7 1292zM1544.9 1254.1L1587.9 1254.1L1566.4 1292.1zM1561.6 1254.1L1604.6 1254.1L1583.1 1292.1zM1578.4 1254.2L1621.4 1254.2L1599.9 1292.2zM1595.1 1254.3L1638.1 1254.3L1616.6 1292.3zM1611.8 1254.3L1654.8 1254.3L1633.3 1292.3zM1628.6 1254.3L1671.6 1254.3L1650.1 1292.3zM1645.3 1254.4L1688.3 1254.4L1666.8 1292.4zM1662 1254.4L1705 1254.4L1683.5 1292.4zM1678.8 1254.4L1721.8 1254.4L1700.2 1292.4zM1695.5 1254.4L1738.5 1254.4L1717 1292.4zM1712.2 1254.4L1755.2 1254.4L1733.7 1292.4zM1728.9 1254.5L1771.9 1254.5L1750.4 1292.5zM1745.7 1254.5L1788.7 1254.5L1767.2 1292.5zM1762.4 1254.5L1805.4 1254.5L1783.9 1292.5zM1779.1 1254.5L1822.1 1254.5L1800.6 1292.5zM1795.9 1254.5L1838.9 1254.5L1817.4 1292.5zM1812.6 1254.5L1855.6 1254.5L1834.1 1292.5zM1829.3 1254.5L1872.3 1254.5L1850.8 1292.5zM1846 1254.5L1889 1254.5L1867.5 1292.5zM1862.8 1254.5L1905.8 1254.5L1884.3 1292.5zM1879.5 1254.5L1922.5 1254.5L1901 1292.5zM1896.2 1254.5L1939.2 1254.5L1917.7 1292.5zM1913 1254.5L1956 1254.5L1934.5 1292.5zM1929.7 1254.5L1972.7 1254.5L1951.2 1292.5zM1946.4 1254.5L1989.4 1254.5L1967.9 1292.5zM1963.2 1254.5L2006.2 1254.5L1984.7 1292.5zM1979.9 1254.5L2022.9 1254.5L2001.4 1292.5zM1996.6 1254.5L2039.6 1254.5L2018.1 1292.5zM2013.4 1254.5L2056.4 1254.5L2034.9 1292.5zM2030.1 1254.5L2073.1 1254.5L2051.6 1292.5zM2046.8 1254.5L2089.8 1254.5L2068.3 1292.5zM2063.5 1254.5L2106.5 1254.5L2085 1292.5zM2080.3 1254.5L2123.3 1254.5L2101.8 1292.5zM2097 1254.5L2140 1254.5L2118.5 1292.5z" fill="#3aae6a"/>
</g>
<g font-family="'Liberation Sans', Arial, sans-serif" font-weight="bold" font-size="65.5" text-anchor="middle" fill="#000">
<text x="431.5" y="1476">0</text>
<text x="855.1" y="1476">50</text>
<text x="1278.8" y="1476">100</text>
<text x="1702.4" y="1476">150</text>
<text x="2126" y="1476">200</text>
</g>
<g font-family="'Liberation Sans', Arial, sans-serif" font-weight="bold" fill="#000">
<text x="386" y="1289.3" font-size="67.5" text-anchor="end">0.0</text>
<text transform="translate(338 1065.8) scale(0.983 1)" font-size="65.5" text-anchor="end">2.0x10</text>
<text x="335.9" y="1038.8" font-size="44.7">20</text>
<text transform="translate(338 839.3) scale(0.983 1)" font-size="65.5" text-anchor="end">4.0x10</text>
<text x="335.9" y="812.3" font-size="44.7">20</text>
<text transform="translate(338 612.7) scale(0.983 1)" font-size="65.5" text-anchor="end">6.0x10</text>
<text x="335.9" y="585.7" font-size="44.7">20</text>
<text transform="translate(338 386.2) scale(0.983 1)" font-size="65.5" text-anchor="end">8.0x10</text>
<text x="335.9" y="359.2" font-size="44.7">20</text>
<text transform="translate(338 159.6) scale(0.983 1)" font-size="65.5" text-anchor="end">1.0x10</text>
<text x="335.9" y="132.6" font-size="44.7">21</text>
</g>
<text x="1258.8" y="1574.8" font-family="'Liberation Serif', 'Times New Roman', serif" font-weight="bold" font-size="84" text-anchor="middle">Depth (nm)</text>
<text transform="translate(103 658.5) rotate(-90)" font-family="'Liberation Serif', 'Times New Roman', serif" font-weight="bold" font-size="84.7" text-anchor="middle">P concentration (cm<tspan dy="-31">-3</tspan><tspan dy="31">)</tspan></text>
<line x1="1521.9" y1="190.4" x2="1672.7" y2="190.4" stroke="#ff0000" stroke-width="1.9"/>
<circle cx="1596.1" cy="189.6" r="18" fill="#ff0000"/>
<line x1="1521.9" y1="274.6" x2="1672.7" y2="274.6" stroke="#000000" stroke-width="1.9"/>
<rect x="1578.8" y="257.1" width="34.5" height="33" fill="#000000"/>
<line x1="1521.9" y1="358.8" x2="1672.7" y2="358.8" stroke="#1c6fe3" stroke-width="1.9"/>
<path d="M1596.1 333.7L1617.6 371.6L1574.6 371.6z" fill="#1c6fe3"/>
<path d="M1574.1 428.3L1618.1 428.3L1596.1 466.7z" fill="#3aae6a"/>
<g font-family="'Liberation Serif', 'Times New Roman', serif" font-weight="bold" font-size="70.5" fill="#000">
<text transform="translate(1686.5 214) scale(0.962 1)">308W</text>
<text transform="translate(1686.5 298.2) scale(0.962 1)">335W</text>
<text transform="translate(1686.5 381.6) scale(0.962 1)">394W</text>
<text transform="translate(1690.5 464) scale(0.962 1)">As-implanted</text>
</g>
</g>
</svg>
</body></html>
